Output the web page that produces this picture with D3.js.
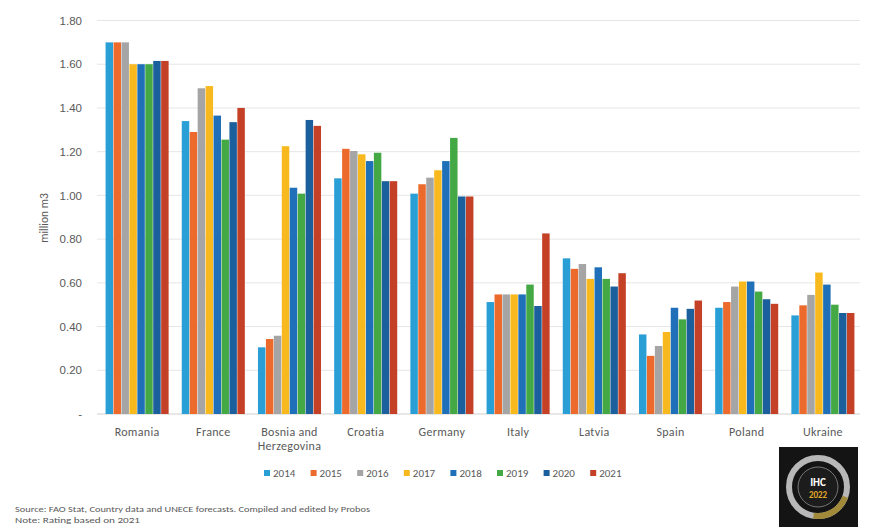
<!DOCTYPE html>
<html><head><meta charset="utf-8">
<script src="https://cdn.jsdelivr.net/npm/d3@7"></script>
<style>body{margin:0;background:#fff;}svg{display:block;font-family:Calibri,"Carlito",Lato,"Open Sans",sans-serif;}</style>
</head><body>
<svg id="c" width="876" height="527"></svg>
<script>
const countries = ["Romania","France","Bosnia and Herzegovina","Croatia","Germany","Italy","Latvia","Spain","Poland","Ukraine"];
const years = ["2014","2015","2016","2017","2018","2019","2020","2021"];
const colors = ["#2a9fd6","#ec6a2c","#a5a5a5","#f8b91f","#1f70b8","#44a944","#1b5f9c","#c44127"];
// values per country, 2014..2021 (million m3)
const romania = [1.70,1.70,1.70,1.60,1.60,1.60,1.615,1.615];
const france  = [1.34,1.29,1.49,1.50,1.365,1.255,1.335,1.40];
const bosnia  = [0.305,0.343,0.358,1.225,1.035,1.008,1.345,1.318];
const croatia = [1.078,1.213,1.203,1.188,1.157,1.195,1.065,1.065];
const germany = [1.008,1.051,1.081,1.115,1.157,1.263,0.995,0.995];
const italy   = [0.512,0.547,0.547,0.547,0.547,0.592,0.494,0.826];
const latvia  = [0.712,0.664,0.686,0.618,0.671,0.618,0.583,0.644];
const spain   = [0.364,0.266,0.311,0.375,0.486,0.433,0.481,0.519];
const poland  = [0.486,0.512,0.583,0.606,0.606,0.560,0.525,0.504];
const ukraine = [0.451,0.497,0.545,0.647,0.592,0.500,0.462,0.462];
const values = [romania,france,bosnia,croatia,germany,italy,latvia,spain,poland,ukraine];
const yTicks = [0,0.2,0.4,0.6,0.8,1.0,1.2,1.4,1.6,1.8];

const svg = d3.select("#c");
const x = d3.scaleBand().domain(countries).range([99,861]).paddingInner(0.16).paddingOuter(0.08);
const xs = d3.scaleBand().domain(years).range([0,x.bandwidth()]).padding(0.06);
const y = d3.scaleLinear().domain([0,1.8]).range([414,20.5]);

// gridlines
svg.append("g").selectAll("line").data(yTicks).join("line")
  .attr("x1",97).attr("x2",860).attr("y1",d=>y(d)).attr("y2",d=>y(d))
  .attr("stroke",d=>d===0?"#d0d0d0":"#e6e6e6").attr("stroke-width",1);

// y labels
const yAxis = d3.axisLeft(y).tickValues(yTicks).tickSize(0).tickPadding(0)
  .tickFormat(d=>d===0?"-":d3.format(".2f")(d));
const ga = svg.append("g").attr("transform","translate(82,0)").call(yAxis);
ga.select(".domain").remove();
ga.selectAll("text").attr("fill","#595959").style("font-size","11.5px").style("font-family","inherit");

// y title
svg.append("text").attr("transform","translate(48,218) rotate(-90)").attr("text-anchor","middle")
  .attr("fill","#595959").style("font-size","11.5px").text("million m3");

// bars
const groups = svg.append("g").selectAll("g").data(countries).join("g")
  .attr("transform",d=>`translate(${x(d)},0)`);
groups.selectAll("rect").data((c,i)=>values[i].map((v,j)=>({v,j})))
  .join("rect")
  .attr("x",d=>xs(years[d.j])).attr("width",xs.bandwidth())
  .attr("y",d=>y(d.v)).attr("height",d=>y(0)-y(d.v))
  .attr("fill",d=>colors[d.j]);

// category labels
const cl = svg.append("g").selectAll("text").data(countries).join("text")
  .attr("text-anchor","middle").attr("fill","#595959").style("font-size","12px").style("letter-spacing","0.3px")
  .attr("x",d=>x(d)+x.bandwidth()/2).attr("y",436);
cl.each(function(d){
  const t = d3.select(this);
  if(d==="Bosnia and Herzegovina"){
    t.append("tspan").attr("x",x(d)+x.bandwidth()/2).text("Bosnia and");
    t.append("tspan").attr("x",x(d)+x.bandwidth()/2).attr("dy",14).text("Herzegovina");
  } else t.text(d);
});

// legend
const lg = svg.append("g").selectAll("g").data(years).join("g")
  .attr("transform",(d,i)=>`translate(${264+i*46.6},473)`);
lg.append("rect").attr("x",0).attr("y",-3).attr("width",6).attr("height",6).attr("fill",(d,i)=>colors[i]);
lg.append("text").attr("x",9).attr("y",4).attr("fill","#595959").style("font-size","11px").text(d=>d);

// source
svg.append("text").attr("x",15).attr("y",512).attr("fill","#595959").style("font-size","8.5px")
  .attr("textLength",355).attr("lengthAdjust","spacingAndGlyphs")
  .text("Source: FAO Stat, Country data and UNECE forecasts. Compiled and edited by Probos");
svg.append("text").attr("x",15).attr("y",523).attr("fill","#595959").style("font-size","8.5px")
  .attr("textLength",125).attr("lengthAdjust","spacingAndGlyphs")
  .text("Note:    Rating based on 2021");

// logo
const logo = svg.append("g");
logo.append("rect").attr("x",779).attr("y",447).attr("width",79).attr("height",80).attr("fill","#141414");
logo.append("circle").attr("cx",818).attr("cy",487).attr("r",29).attr("fill","none").attr("stroke","#b8b8b8").attr("stroke-width",6);
logo.append("circle").attr("cx",818).attr("cy",487).attr("r",29).attr("fill","none").attr("stroke","#a08a3a").attr("stroke-width",6).attr("stroke-dasharray","40 142").attr("stroke-dashoffset","-10");
logo.append("circle").attr("cx",818).attr("cy",487).attr("r",20).attr("fill","#1c1c1c").attr("stroke","#777").attr("stroke-width",1);
logo.append("text").attr("x",818).attr("y",486).attr("text-anchor","middle").attr("fill","#fff").style("font-size","11px").style("font-weight","bold").text("IHC");
logo.append("text").attr("x",818).attr("y",498).attr("text-anchor","middle").attr("fill","#e0a82a").style("font-size","9px").style("font-weight","bold").text("2022");
</script>
</body></html>
